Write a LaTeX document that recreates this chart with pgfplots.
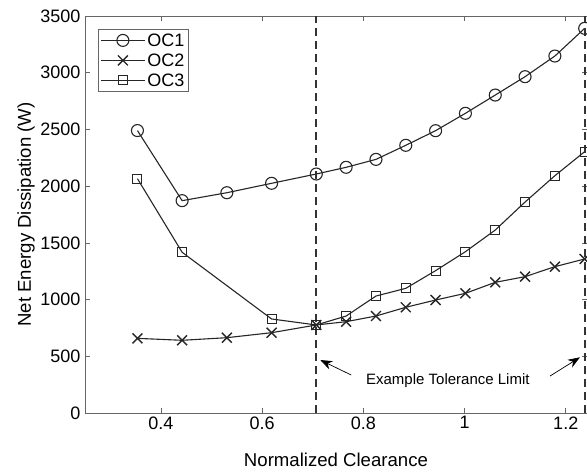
\documentclass[border=0pt]{standalone}
\usepackage{fontspec}
\setmainfont{Liberation Sans}
\usepackage{pgfplots}
\pgfplotsset{compat=1.18}
\usetikzlibrary{arrows.meta}

\pgfplotstableread{
x oc1
0.3536 2490
0.4419 1872
0.5303 1942
0.6187 2025
0.7071 2107
0.7660 2166
0.8250 2236
0.8839 2360
0.9428 2489
1.0017 2642
1.0607 2803
1.1196 2965
1.1785 3147
1.2374 3391
}\tOCone
\pgfplotstableread{
x oc2
0.3536 658
0.4419 641
0.5303 664
0.6187 708
0.7071 776
0.7660 805
0.8250 855
0.8839 932
0.9428 996
1.0017 1055
1.0607 1152
1.1196 1202
1.1785 1290
1.2374 1358
}\tOCtwo
\pgfplotstableread{
x oc3
0.3536 2066
0.4419 1417
0.6187 829
0.7071 776
0.7660 855
0.8250 1031
0.8839 1099
0.9428 1255
1.0017 1422
1.0607 1613
1.1196 1860
1.1785 2092
1.2374 2304
}\tOCthree

\begin{document}
\begin{tikzpicture}
\begin{axis}[
  scale only axis,
  width=502bp, height=397bp,
  xmin=0.25, xmax=1.242,
  ymin=0, ymax=3500,
  xtick={0.4,0.6,0.8,1,1.2},
  xticklabels={0.4,0.6,0.8,1,1.2},
  ytick={0,500,1000,1500,2000,2500,3000,3500},
  scaled y ticks=false,
  /pgf/number format/assume math mode=true,
  /pgf/number format/1000 sep={},
  tick label style={font=\fontsize{18bp}{21bp}\selectfont},
  yticklabel style={xshift=-1bp},
  tick align=inside,
  major tick length=5bp,
  axis line style={gray!80!black, line width=0.6bp},
  tick style={gray!80!black, line width=0.6bp},
  xlabel={Normalized Clearance},
  ylabel={Net Energy Dissipation (W)},
  label style={font=\fontsize{18.6bp}{22bp}\selectfont},
  xlabel style={at={(axis description cs:0.5,-0.136)}, anchor=base},
  ylabel style={at={(axis description cs:-0.1076,0.5)}, anchor=base},
  clip=false,
  legend style={
    at={(axis description cs:0.026,0.967)}, anchor=north west,
    draw=gray!80!black, line width=0.6bp, fill=white,
    font=\fontsize{18bp}{20bp}\selectfont,
    inner xsep=2bp, inner ysep=2bp,
    row sep=2bp,
    nodes={inner sep=2bp, text height=13bp, text depth=1bp},
  },
  legend cell align=left,
  legend image code/.code={\draw[mark repeat=2,mark phase=2] plot coordinates {(0bp,0bp) (22bp,0bp) (44bp,0bp)};},
]
\addplot[black!85, line width=1.1bp, mark=o, mark size=6bp, mark options={line width=1.1bp}] table[x=x,y=oc1] {\tOCone};
\addlegendentry{OC1}
\addplot[black!85, line width=1.1bp, mark=x, mark size=7bp, mark options={line width=1.4bp}] table[x=x,y=oc2] {\tOCtwo};
\addlegendentry{OC2}
\addplot[black!85, line width=1.1bp, mark=square, mark size=4.5bp, mark options={line width=1.1bp}] table[x=x,y=oc3] {\tOCthree};
\addlegendentry{OC3}
\addplot[gray!40!black, line width=1.8bp, dash pattern=on 8bp off 5bp, forget plot] coordinates {(0.7071,0) (0.7071,3500)};
\addplot[gray!40!black, line width=1.8bp, dash pattern=on 8bp off 5bp, forget plot] coordinates {(1.2374,0) (1.2374,3500)};
\node[font=\fontsize{15bp}{18bp}\selectfont, anchor=base] at (axis cs:0.967,247) {Example Tolerance Limit};
\draw[black, line width=0.7bp, -{Stealth[length=12bp,width=9bp]}] (axis cs:0.776,335) -- (axis cs:0.715,467);
\draw[black, line width=0.7bp, -{Stealth[length=12bp,width=9bp]}] (axis cs:1.169,326) -- (axis cs:1.228,491);
\end{axis}
\pgfresetboundingbox
\path ([shift={(-85bp,-59bp)}]current axis.south west) rectangle ([shift={(0bp,16bp)}]current axis.north east);
\end{tikzpicture}
\end{document}
